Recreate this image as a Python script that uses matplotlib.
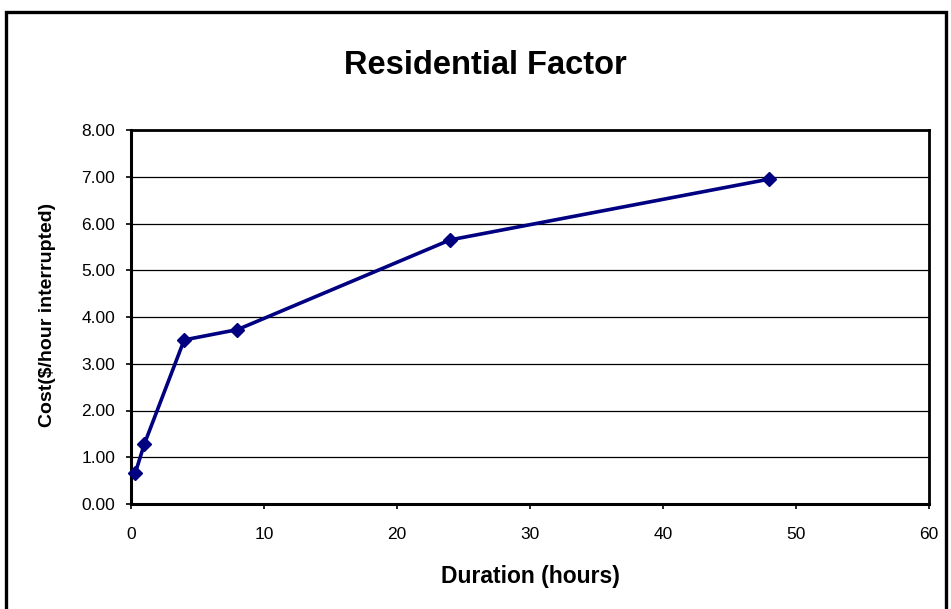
import matplotlib
matplotlib.use("Agg")
import matplotlib.pyplot as plt
from matplotlib.patches import Rectangle

duration_hours = [0.33, 1, 4, 8, 24, 48]
cost_per_hour = [0.67, 1.28, 3.51, 3.73, 5.65, 6.95]
x_ticks = [0, 10, 20, 30, 40, 50, 60]
y_ticks = [0, 1, 2, 3, 4, 5, 6, 7, 8]

plt.rcParams['font.family'] = ['Liberation Sans', 'DejaVu Sans']

W, H = 951, 609
fig = plt.figure(figsize=(W / 100, H / 100), dpi=100)
fig.patch.set_facecolor('white')

# outer chart frame
fig.patches.append(Rectangle((6 / W, -0.05), (946 - 6) / W, 1.05 - 11.5 / H,
                             transform=fig.transFigure, fill=False,
                             edgecolor='black', linewidth=2.4, zorder=0))

ax = fig.add_axes([131 / W, (H - 504) / H, (929 - 131) / W, (504 - 130) / H])
ax.plot(duration_hours, cost_per_hour, color='#000080', linewidth=2.6,
        marker='D', markersize=7, markerfacecolor='#000080',
        markeredgecolor='#000080', zorder=3, clip_on=False)

ax.set_xlim(0, 60)
ax.set_ylim(0, 8)
ax.set_xticks(x_ticks)
ax.set_xticklabels([str(t) for t in x_ticks])
ax.set_yticks(y_ticks)
ax.set_yticklabels([f"{t:.2f}" for t in y_ticks])
ax.tick_params(axis='both', labelsize=12.5, direction='out', length=3.5,
               width=1.2, colors='black')
ax.tick_params(axis='x', pad=13)
ax.tick_params(axis='y', pad=8)
ax.grid(axis='y', color='black', linewidth=0.9)
ax.set_axisbelow(True)

for side in ['left', 'bottom']:
    ax.spines[side].set_linewidth(2.2)
for side in ['top', 'right']:
    ax.spines[side].set_linewidth(2.0)

fig.text(485 / W, 1 - 66 / H, 'Residential Factor', ha='center', va='center',
         fontsize=23.5, fontweight='bold')
fig.text(530 / W, 1 - 577 / H, 'Duration (hours)', ha='center', va='center',
         fontsize=16.5, fontweight='bold')
fig.text(48 / W, 1 - 315 / H, 'Cost($/hour interrupted)', ha='center',
         va='center', rotation=90, fontsize=14, fontweight='bold')

fig.savefig('out.png', dpi=100)
